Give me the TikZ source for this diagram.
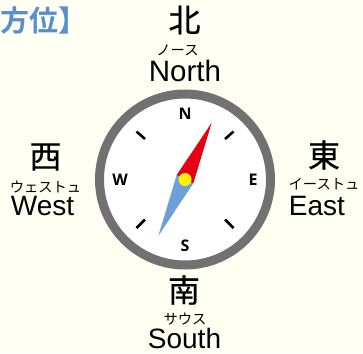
\documentclass[tikz,border=0pt]{standalone}
\usepackage{fontspec}
\setmainfont{Liberation Sans}
\newfontfamily\cjk{Noto Sans CJK JP}
\newfontfamily\cjkm[FakeBold=0.6]{Noto Sans CJK JP}
\newfontfamily\cjkb{Noto Sans CJK JP Bold}
\newfontfamily\cardf{Open Sans}
\definecolor{bgc}{HTML}{FFFFF3}
\definecolor{ringc}{HTML}{727171}
\definecolor{bluec}{HTML}{6F9FD8}
\definecolor{headc}{HTML}{5A8FCC}
\definecolor{redc}{HTML}{E60012}
\definecolor{yelc}{HTML}{FFF100}
\tikzset{
 x=1pt,y=-1pt,
 kanji/.style={inner sep=0pt,font=\fontsize{32}{32}\selectfont\cjkm},
 kana/.style={inner sep=0pt,font=\fontsize{14.3}{14.3}\selectfont\cjk},
 eng/.style={inner sep=0pt,font=\fontsize{28}{28}\selectfont},
 card/.style={inner sep=0pt,font=\fontsize{16}{16}\selectfont\bfseries\cardf},
 tick/.style={line width=2.6pt,black},
}
\begin{document}
\begin{tikzpicture}
\useasboundingbox (0,0) rectangle (363,353);
\fill[bgc] (0,0) rectangle (363,353);
\node[anchor=west,inner sep=0pt,text=headc,font=\fontsize{29}{29}\selectfont\cjkb] (head) at (0,20.5) {方位】};
\node[kanji] (kn) at (184.5,20) {北};
\node[kana] (rn) at (177.5,50) {ノース};
\node[eng,font=\fontsize{29.5}{29.5}\selectfont] (en) at (185,71) {North};
\node[kanji] (kw) at (45.5,157) {西};
\node[kana] (rw) at (45.5,187) {ウェストュ};
\node[eng] (ew) at (42.5,206) {West};
\node[kanji] (ke) at (324,155) {東};
\node[kana] (re) at (324,184) {イーストュ};
\node[eng] (ee) at (317,206) {East};
\node[kanji] (ks) at (184,290) {南};
\node[kana] (rs) at (185,319) {サウス};
\node[eng] (es) at (184.5,338) {South};
\fill[white] (185,179.5) circle (85);
\draw[ringc,line width=9pt] (185,179.5) circle (85.5);
\node[card] (cn) at (185,114) {N};
\node[card] (cs) at (185,245.5) {S};
\node[card] (ce) at (253,180) {E};
\node[card] (cw) at (120,180) {W};
\draw[tick] (136.5,131.5) -- (145,139);
\draw[tick] (233.5,131.5) -- (225,139);
\draw[tick] (136.5,228) -- (145,219.5);
\draw[tick] (233.5,228) -- (225,219.5);
\fill[bluec] (176.7,175) -- (158.3,236) -- (193.3,183.3) -- cycle;
\fill[redc] (176.7,175) -- (211.7,122.7) -- (193.3,183.3) -- cycle;
\fill[yelc] (185,179.5) circle (6.5);
\end{tikzpicture}
\end{document}
